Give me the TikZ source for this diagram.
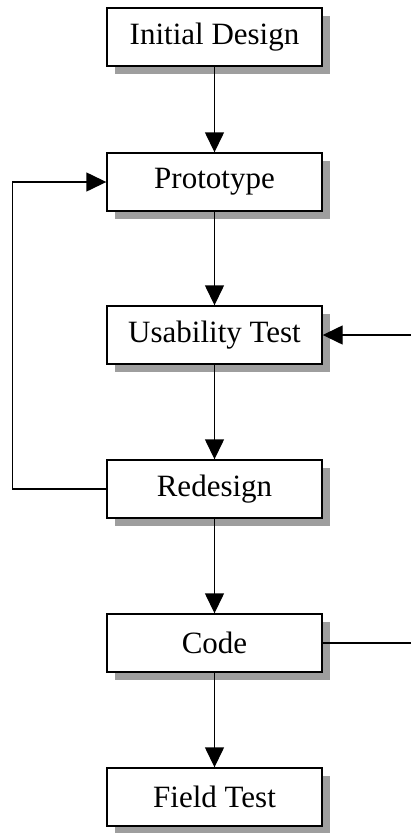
\documentclass[tikz,border=0pt]{standalone}
\usepackage{fontspec}
\setmainfont{Liberation Serif}
\usetikzlibrary{arrows.meta,shadows}
\begin{document}
\begin{tikzpicture}[x=1pt,y=-1pt,
  stepbox/.style={draw, fill=white, line width=1.4pt, minimum width=215pt, minimum height=58pt, inner sep=0pt,
    font=\fontsize{31}{36}\selectfont,
    general shadow={fill=black!38, shadow xshift=8pt, shadow yshift=-8pt}},
  conn/.style={line width=1.4pt},
  arr/.style={conn, -{Triangle[length=20pt,width=19pt]}}]
\useasboundingbox (0,0) rectangle (411,833);
\node[stepbox] (init) at (214.5,37) {Initial Design};
\node[stepbox] (proto) at (214.5,182) {Prototype};
\node[stepbox] (use) at (214.5,335) {Usability Test};
\node[stepbox] (red) at (214.5,489) {Redesign};
\node[stepbox] (code) at (214.5,643) {Code};
\node[stepbox] (field) at (214.5,797) {Field Test};
\coordinate (lx) at (12.7,0);
\coordinate (rx) at (412,0);
\draw[arr] (init) -- (proto);
\draw[arr] (proto) -- (use);
\draw[arr] (use) -- (red);
\draw[arr] (red) -- (code);
\draw[arr] (code) -- (field);
\draw[arr] (red.west) -- (red.west -| lx) |- (proto.west);
\draw[arr] (use.east -| rx) -- (use.east);
\draw[conn] (code.east) -- (code.east -| rx);
\end{tikzpicture}
\end{document}
